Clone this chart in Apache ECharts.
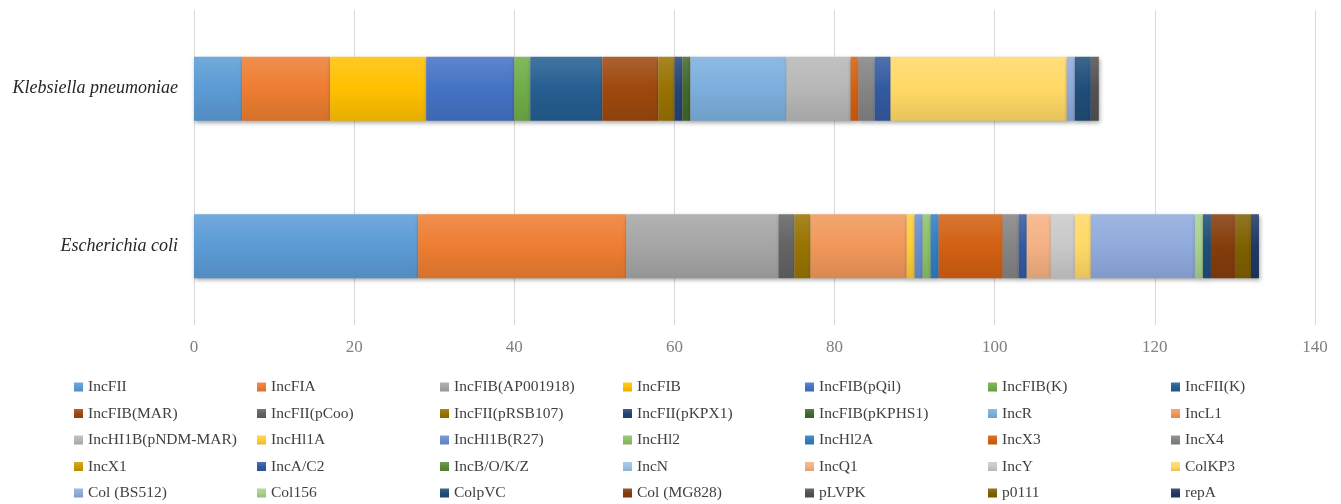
<!DOCTYPE html>
<html>
<head>
<meta charset="utf-8">
<script src="https://cdn.jsdelivr.net/npm/echarts@6/dist/echarts.min.js"></script>
<style>
  html, body { margin: 0; padding: 0; background: #fff; }
  #chart { width: 1341px; height: 504px; }
</style>
</head>
<body>
<div id="chart"></div>
<script>
// Species shown on the category axis (bottom to top)
const species = ['Escherichia coli', 'Klebsiella pneumoniae'];

// Replicon types, in stacking order
const replicons = [
  'IncFII', 'IncFIA', 'IncFIB(AP001918)', 'IncFIB', 'IncFIB(pQil)', 'IncFIB(K)', 'IncFII(K)',
  'IncFIB(MAR)', 'IncFII(pCoo)', 'IncFII(pRSB107)', 'IncFII(pKPX1)', 'IncFIB(pKPHS1)', 'IncR', 'IncL1',
  'IncHI1B(pNDM-MAR)', 'IncHl1A', 'IncHl1B(R27)', 'IncHl2', 'IncHl2A', 'IncX3', 'IncX4',
  'IncX1', 'IncA/C2', 'IncB/O/K/Z', 'IncN', 'IncQ1', 'IncY', 'ColKP3',
  'Col (BS512)', 'Col156', 'ColpVC', 'Col (MG828)', 'pLVPK', 'p0111', 'repA'
];

// Counts per replicon for each species
const ecoliCounts = [
  28, 26, 19, 0, 0, 0, 0,
  0, 2, 2, 0, 0, 0, 12,
  0, 1, 1, 1, 1, 8, 2,
  0, 1, 0, 0, 3, 3, 2,
  13, 1, 1, 3, 0, 2, 1
];
const klebCounts = [
  6, 11, 0, 12, 11, 2, 9,
  7, 0, 2, 1, 1, 12, 0,
  8, 0, 0, 0, 0, 1, 2,
  0, 2, 0, 0, 0, 0, 22,
  1, 0, 2, 0, 1, 0, 0
];

// Axis ticks
const xMin = 0, xMax = 140, xStep = 20;

// Office-style palette, one colour per replicon
const palette = [
  '#5B9BD5', '#ED7D31', '#A5A5A5', '#FFC000', '#4472C4', '#70AD47', '#255E91',
  '#9E480E', '#636363', '#997300', '#264478', '#43682B', '#7CAFDD', '#F1975A',
  '#B7B7B7', '#FFCD33', '#698ED0', '#8CC168', '#327DC2', '#D26012', '#848484',
  '#CC9A00', '#335AA1', '#5A8A39', '#9DC3E6', '#F4B183', '#C9C9C9', '#FFD966',
  '#8FAADC', '#A9D18E', '#1F4E79', '#843C0C', '#525252', '#7F6000', '#203864'
];

function mix(hex, target, t) {
  const n = parseInt(hex.slice(1), 16);
  const r = (n >> 16) & 255, g = (n >> 8) & 255, b = n & 255;
  const m = c => Math.round(c + (target - c) * t);
  return 'rgb(' + m(r) + ',' + m(g) + ',' + m(b) + ')';
}

function shaded(hex) {
  return new echarts.graphic.LinearGradient(0, 0, 0, 1, [
    { offset: 0, color: mix(hex, 255, 0.14) },
    { offset: 0.5, color: hex },
    { offset: 1, color: mix(hex, 0, 0.1) }
  ]);
}

const serif = '"Liberation Serif", "Times New Roman", serif';

const series = replicons.map((name, i) => ({
  name: name,
  type: 'bar',
  stack: 'total',
  barWidth: 64,
  data: [ecoliCounts[i], klebCounts[i]],
  itemStyle: {
    color: shaded(palette[i]),
    shadowColor: 'rgba(0,0,0,0.35)',
    shadowBlur: 4,
    shadowOffsetX: 1,
    shadowOffsetY: 2
  },
  emphasis: { disabled: true }
}));

// Legend laid out as 7 columns of 5 rows
const colLeft = [74, 257, 440, 623, 805, 988, 1171];
const legends = colLeft.map((left, c) => ({
  orient: 'vertical',
  left: left,
  top: 379,
  height: 132,
  padding: 0,
  itemWidth: 9,
  itemHeight: 9,
  itemGap: 10.5,
  icon: 'rect',
  selectedMode: false,
  data: [0, 1, 2, 3, 4].map(r => replicons[r * 7 + c]),
  textStyle: {
    fontFamily: serif,
    fontSize: 15.5,
    lineHeight: 16,
    color: '#404040'
  }
}));

const chart = echarts.init(document.getElementById('chart'), null, { renderer: 'canvas' });
chart.setOption({
  animation: false,
  backgroundColor: '#ffffff',
  grid: { left: 194, right: 26, top: 10, bottom: 179, containLabel: false },
  legend: legends,
  xAxis: {
    type: 'value',
    min: xMin,
    max: xMax,
    interval: xStep,
    axisLine: { show: false },
    axisTick: { show: false },
    splitLine: { show: true, lineStyle: { color: '#d9d9d9', width: 1 } },
    axisLabel: {
      fontFamily: serif,
      fontSize: 17,
      color: '#808080',
      margin: 14
    }
  },
  yAxis: {
    type: 'category',
    data: species,
    axisLine: { show: false },
    axisTick: { show: false },
    splitLine: { show: false },
    axisLabel: {
      fontFamily: serif,
      fontStyle: 'italic',
      fontSize: 18,
      color: '#262626',
      margin: 16
    }
  },
  series: series
});
</script>
</body>
</html>
